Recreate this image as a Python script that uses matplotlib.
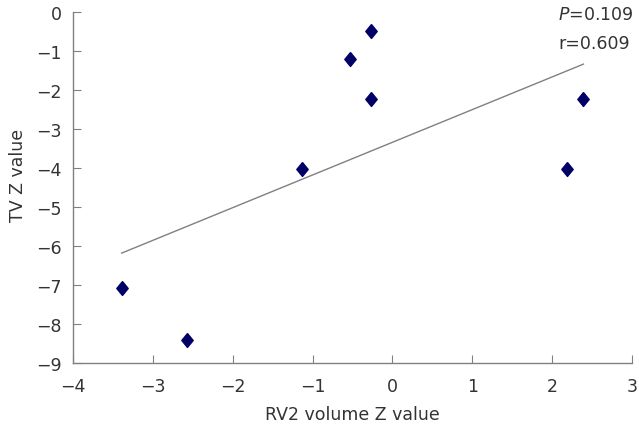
import numpy as np
import matplotlib
matplotlib.use('Agg')
import matplotlib.pyplot as plt

# data
rv2_z = [-3.39, -2.57, -1.13, -0.53, -0.27, -0.27, 2.19, 2.39]
tv_z = [-7.08, -8.41, -4.03, -1.20, -0.49, -2.24, -4.03, -2.24]
p_text = '0.109'
r_text = '0.609'

plt.rcParams['font.family'] = ['DejaVu Sans']

fig = plt.figure(figsize=(6.39, 4.27), dpi=100)
ax = fig.add_axes([0.1142, 0.1475, 0.875, 0.822])

# regression line over the range of the data
slope, icpt = np.polyfit(rv2_z, tv_z, 1)
xl = np.array([min(rv2_z), max(rv2_z)])
ax.plot(xl, slope * xl + icpt, color='#808080', lw=1.0)

# points (slightly tall diamonds)
diamond = [(0, 1), (0.82, 0), (0, -1), (-0.82, 0), (0, 1)]
ax.plot(rv2_z, tv_z, linestyle='none', marker=diamond, color='#000066',
        ms=10, mec='#000066')

ax.set_xlim(-4, 3)
ax.set_ylim(-9, 0)
ax.set_xticks(range(-4, 4))
ax.set_yticks(range(-9, 1))

for s in ['top', 'right']:
    ax.spines[s].set_visible(False)
for s in ['left', 'bottom']:
    ax.spines[s].set_color('#808080')
    ax.spines[s].set_linewidth(1.0)
ax.tick_params(direction='in', length=6, color='#808080', labelsize=12.5,
               labelcolor='#333333')
ax.tick_params(axis='x', pad=10)
ax.tick_params(axis='y', pad=8)

ax.set_xlabel('RV2 volume Z value', fontsize=12.5, color='#333333', labelpad=7)
ax.set_ylabel('TV Z value', fontsize=12.5, color='#333333')
ax.yaxis.set_label_coords(-0.083, 0.538)

ax.text(0.868, 0.993, r'$P$' + '=' + p_text, transform=ax.transAxes,
        fontsize=12.5, color='#333333', va='center', ha='left')
ax.text(0.868, 0.913, 'r=' + r_text, transform=ax.transAxes,
        fontsize=12.5, color='#333333', va='center', ha='left')

fig.savefig('out.png', dpi=100)
